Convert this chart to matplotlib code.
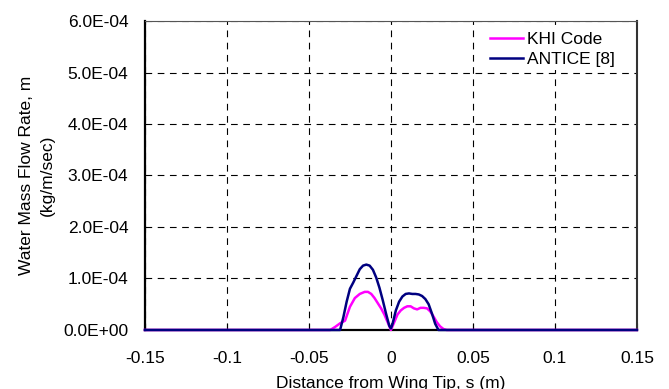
import matplotlib
matplotlib.use("Agg")
import matplotlib.pyplot as plt
from matplotlib.ticker import FuncFormatter

plt.rcParams['font.family'] = ['Liberation Sans', 'DejaVu Sans']

# ANTICE [8] curve (s in m, flow rate in 1e-4 kg/m/sec)
antice_s = [-0.15, -0.031, -0.029, -0.027, -0.025, -0.023, -0.021, -0.019, -0.017,
            -0.015, -0.013, -0.011, -0.009, -0.007, -0.005, -0.003, -0.001, 0.0,
            0.001, 0.003, 0.005, 0.007, 0.009, 0.011, 0.013, 0.015, 0.017, 0.019,
            0.021, 0.023, 0.025, 0.027, 0.029, 0.15]
antice_m = [0, 0, 0.25, 0.55, 0.80, 0.92, 1.05, 1.18, 1.25,
            1.27, 1.25, 1.17, 1.02, 0.82, 0.58, 0.32, 0.08, 0.03,
            0.12, 0.38, 0.55, 0.65, 0.70, 0.71, 0.70, 0.70, 0.69, 0.66,
            0.60, 0.50, 0.32, 0.12, 0.0, 0]

# KHI Code curve
khi_s = [-0.15, -0.037, -0.034, -0.031, -0.028, -0.025, -0.022, -0.019, -0.016,
         -0.014, -0.012, -0.010, -0.008, -0.006, -0.004, -0.002, 0.0, 0.002,
         0.004, 0.006, 0.008, 0.010, 0.012, 0.014, 0.016, 0.018, 0.020, 0.022,
         0.024, 0.026, 0.028, 0.030, 0.032, 0.034, 0.15]
khi_m = [0, 0, 0.06, 0.13, 0.18, 0.45, 0.62, 0.70, 0.74,
         0.74, 0.70, 0.62, 0.52, 0.42, 0.30, 0.15, 0.0, 0.15,
         0.30, 0.38, 0.43, 0.46, 0.46, 0.42, 0.40, 0.43, 0.43, 0.42,
         0.36, 0.26, 0.15, 0.07, 0.02, 0.0, 0]

x_ticks = [-0.15, -0.1, -0.05, 0, 0.05, 0.1, 0.15]
x_labels = ["-0.15", "-0.1", "-0.05", "0", "0.05", "0.1", "0.15"]
y_ticks = [0, 1e-4, 2e-4, 3e-4, 4e-4, 5e-4, 6e-4]

fs = 12.5

fig = plt.figure(figsize=(6.69, 3.89), dpi=100)
ax = fig.add_axes([0.2167, 0.1517, 0.7353, 0.7943])

ax.plot(khi_s, [v * 1e-4 for v in khi_m], color="#ff00ff", lw=1.8,
        label="KHI Code", zorder=3, clip_on=False)
ax.plot(antice_s, [v * 1e-4 for v in antice_m], color="#000080", lw=1.8,
        label="ANTICE [8]", zorder=4, clip_on=False)

ax.set_xlim(-0.15, 0.15)
ax.set_ylim(0, 6e-4)
ax.set_xticks(x_ticks)
ax.set_xticklabels(x_labels)
ax.set_yticks(y_ticks)
ax.yaxis.set_major_formatter(FuncFormatter(
    lambda v, p: "0.0E+00" if v == 0 else "%.1fE-04" % (v / 1e-4)))

ax.grid(True, color="black", linestyle=(0, (6, 5)), lw=0.8)
ax.tick_params(axis="x", direction="in", length=5, labelsize=fs, pad=15, top=False)
ax.tick_params(axis="y", length=0, labelsize=fs, pad=12)

ax.spines["left"].set_linewidth(1.6)
ax.spines["bottom"].set_linewidth(1.6)
ax.spines["top"].set_color("#555555")
ax.spines["top"].set_linewidth(0.8)
ax.spines["right"].set_color("#333333")
ax.spines["right"].set_linewidth(1.5)

ax.set_xlabel("Distance from Wing Tip, s (m)", fontsize=fs, labelpad=7)
ax.set_ylabel("Water Mass Flow Rate, m\n(kg/m/sec)", fontsize=fs, labelpad=6,
              linespacing=1.5)

leg = ax.legend(loc="upper right", bbox_to_anchor=(0.962, 0.975), frameon=True,
                fancybox=False, framealpha=1, edgecolor="none", fontsize=fs,
                handlelength=1.95, handletextpad=0.2, borderpad=0.2,
                labelspacing=0.25, borderaxespad=0)

fig.savefig("out.png", dpi=100)
